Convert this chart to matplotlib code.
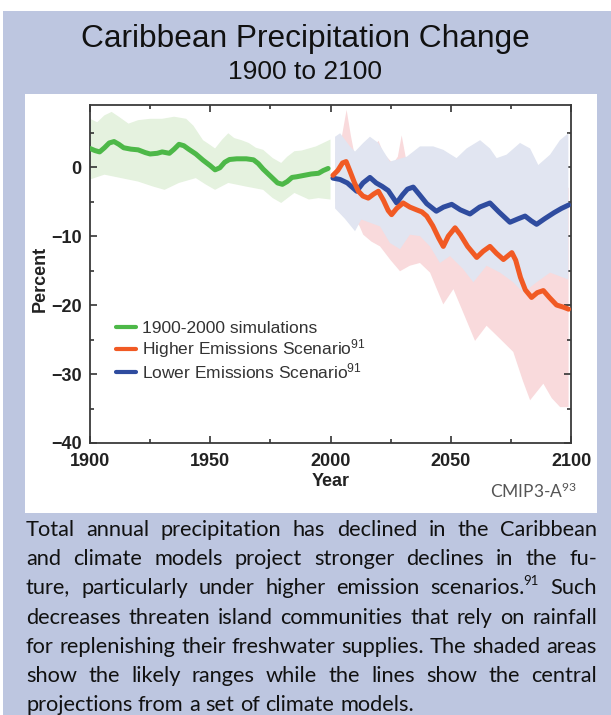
import numpy as np
import matplotlib
matplotlib.use('Agg')
import matplotlib.pyplot as plt
from matplotlib.patches import Rectangle
from matplotlib.font_manager import FontProperties
from matplotlib.ticker import MultipleLocator

plt.rcParams['font.family'] = ['Liberation Sans', 'DejaVu Sans']
plt.rcParams['mathtext.default'] = 'regular'

# ---- data ----
# 1900-2000 simulations (central line)
hist_year = [1900, 1902, 1904, 1906, 1908, 1910, 1912, 1914, 1917, 1920, 1923, 1925, 1928, 1930,
             1933, 1935, 1937, 1939, 1941, 1944, 1947, 1950, 1952, 1954, 1956, 1958, 1961, 1965,
             1968, 1970, 1972, 1975, 1978, 1980, 1982, 1984, 1986, 1989, 1992, 1995, 1997, 1999]
hist_mid = [2.7, 2.4, 2.2, 2.8, 3.5, 3.7, 3.3, 2.8, 2.6, 2.5, 2.1, 1.9, 2.0, 2.2,
            2.0, 2.6, 3.3, 3.1, 2.6, 1.9, 1.0, 0.2, -0.4, -0.1, 0.7, 1.1, 1.2, 1.2,
            1.05, 0.5, -0.3, -1.3, -2.3, -2.5, -2.1, -1.5, -1.4, -1.2, -1.0, -0.9, -0.5, -0.2]
# 1900-2000 likely range
hist_up_year = [1900, 1903, 1906, 1909, 1912, 1916, 1920, 1925, 1930, 1935, 1940, 1943, 1947, 1950,
                1952, 1955, 1957.5, 1960, 1963, 1966, 1969, 1972, 1976, 1979.5, 1982, 1985, 1988,
                1991, 1994, 1997, 2000]
hist_up = [7.0, 6.5, 7.5, 8.0, 7.3, 6.3, 6.8, 7.0, 7.0, 7.3, 7.0, 6.0, 3.9, 3.2,
           2.7, 4.0, 4.9, 4.2, 3.9, 3.5, 2.8, 2.5, 1.3, 0.6, 1.5, 2.3, 2.4,
           2.7, 3.0, 3.5, 4.0]
hist_lo_year = [1900, 1906, 1913, 1920, 1926, 1931, 1937, 1944, 1948, 1952, 1957.5, 1964.5, 1972,
                1976, 1979.5, 1985, 1991, 1995, 2000]
hist_lo = [-1.8, -1.1, -1.6, -2.1, -2.8, -3.3, -2.3, -1.6, -2.5, -3.3, -2.3, -2.8, -3.3,
           -4.5, -5.2, -3.75, -4.7, -4.5, -4.7]

# Higher emissions scenario (central line)
high_year = [2001, 2003, 2005, 2006.5, 2008, 2010, 2011.6, 2013.5, 2015.7, 2018, 2019.9, 2022, 2024,
             2025.4, 2027.5, 2030.2, 2033, 2035.8, 2038, 2040, 2042.5, 2045, 2046.9, 2049, 2051.8,
             2054, 2057, 2060.8, 2063.5, 2066.3, 2069, 2071.9, 2075.4, 2077, 2079, 2081, 2083.6,
             2086, 2088.5, 2091, 2094, 2096.8, 2099]
high_mid = [-1.2, -0.5, 0.6, 0.8, -0.5, -2.3, -3.5, -4.2, -4.5, -3.9, -3.5, -4.8, -6.3,
            -6.9, -6.0, -5.2, -5.8, -6.2, -6.5, -7.1, -8.5, -10.3, -11.5, -10.0, -8.8,
            -9.8, -11.5, -13.1, -12.2, -11.5, -12.5, -13.4, -12.4, -13.5, -16.0, -17.8, -18.9,
            -18.2, -17.9, -18.9, -20.0, -20.3, -20.6]
high_up_year = [2002, 2004.5, 2006.7, 2008.5, 2010, 2014, 2018, 2020, 2022, 2026, 2028, 2029.6,
                2031.5, 2035, 2040, 2044, 2050, 2055, 2060, 2066, 2072, 2080, 2088, 2095, 2099]
high_up = [2.0, 4.0, 8.3, 4.5, 1.8, 2.0, 3.0, 3.8, 2.0, 0.5, 1.5, 4.6,
           1.0, 0.5, 1.2, 0.0, -0.5, 1.5, -1.0, -2.0, -3.0, -3.0, -3.5, -3.0, -3.0]
high_lo_year = [2002, 2008, 2012, 2013.6, 2017, 2020.6, 2025, 2028.9, 2033, 2037.2, 2041.4, 2044,
                2046.9, 2051.1, 2055.2, 2060.1, 2064.9, 2070.5, 2076, 2080, 2083, 2088.5, 2092,
                2095.5, 2099]
high_lo = [-5.0, -7.0, -8.5, -9.8, -10.8, -11.5, -13.5, -15.1, -14.3, -13.9, -15.3, -17.5,
           -19.9, -17.7, -21.1, -25.2, -23.0, -24.9, -26.8, -31.0, -33.8, -31.4, -33.5,
           -34.8, -34.8]

# Lower emissions scenario (central line)
low_year = [2001, 2004, 2007, 2010.9, 2013.5, 2016.4, 2019, 2021.5, 2024, 2027.5, 2030, 2032,
            2034.4, 2037, 2040, 2044, 2047, 2050.4, 2054, 2058, 2062, 2066.3, 2070, 2074.6,
            2078, 2080.9, 2083.5, 2085.7, 2089, 2093, 2096, 2099]
low_mid = [-1.6, -1.8, -2.3, -3.5, -2.3, -1.5, -2.3, -2.8, -3.4, -5.2, -4.0, -3.2,
           -2.9, -4.0, -5.3, -6.4, -5.8, -5.4, -6.2, -6.8, -5.8, -5.2, -6.5, -8.0,
           -7.5, -7.1, -7.8, -8.3, -7.5, -6.6, -6.0, -5.5]
low_up_year = [2001.9, 2004, 2008.1, 2010.2, 2013.6, 2016.4, 2019.9, 2024.7, 2031.7, 2037.2,
               2042.7, 2046.9, 2052.4, 2056.6, 2062.2, 2066.3, 2069.1, 2073.2, 2078.8, 2083,
               2086.4, 2091.3, 2095.4, 2098.9]
low_up = [4.4, 4.9, 3.0, 2.25, 3.5, 4.4, 3.5, 0.8, 1.5, 3.0,
          3.0, 2.5, 1.3, 2.7, 3.9, 2.7, 1.3, 1.8, 3.5, 2.7,
          0.3, 1.8, 3.9, 4.9]
low_lo_year = [2001.9, 2006, 2010.2, 2012.8, 2020.6, 2024.7, 2028.9, 2033, 2037.2, 2041.4, 2045.5,
               2049.7, 2055.2, 2059.4, 2064.9, 2070.5, 2076, 2080.2, 2085.7, 2091.3, 2098.9]
low_lo = [-6.0, -7.5, -9.3, -7.6, -8.6, -11.0, -11.9, -9.8, -10.0, -11.5, -13.9,
          -12.9, -14.8, -16.7, -14.3, -15.3, -16.7, -18.2, -16.7, -15.3, -16.3]

labels = ['1900-2000 simulations', 'Higher Emissions Scenario$^{91}$',
          'Lower Emissions Scenario$^{91}$']

body_lines = [
    'Total annual precipitation has declined in the Caribbean',
    'and climate models project stronger declines in the fu-',
    'ture, particularly under higher emission scenarios.^91 Such',
    'decreases threaten island communities that rely on rainfall',
    'for replenishing their freshwater supplies. The shaded areas',
    'show the likely ranges while the lines show the central',
    'projections from a set of climate models.',
]

green = '#4db848'
orange = '#f15a24'
blue = '#2f4c9f'

W, H = 611, 715
fig = plt.figure(figsize=(W / 100, H / 100), dpi=100)

# background panels
fig.add_artist(Rectangle((3 / W, 0), 1, (H - 11) / H, transform=fig.transFigure,
                         facecolor='#bdc6e0', edgecolor='none', zorder=0))
fig.add_artist(Rectangle((25 / W, (H - 513) / H), (597 - 25) / W, (513 - 94) / H,
                         transform=fig.transFigure, facecolor='white', edgecolor='none', zorder=0))

fig.text(0.5, 1 - 39 / H, 'Caribbean Precipitation Change', ha='center', va='center',
         family=['Liberation Sans Narrow', 'Liberation Sans'], size=22.8, color='#111')
fig.text(0.5, 1 - 72 / H, '1900 to 2100', ha='center', va='center',
         family=['Liberation Sans Narrow', 'Liberation Sans'], size=19.0, color='#111')

ax = fig.add_axes([90 / W, (H - 443) / H, 481 / W, 338 / H])
ax.set_facecolor('none')

# shaded ranges
ax.fill(np.concatenate([hist_up_year, hist_lo_year[::-1]]),
        np.concatenate([hist_up, hist_lo[::-1]]), color='#e5f2df', lw=0, zorder=1)
ax.fill(np.concatenate([high_up_year, high_lo_year[::-1]]),
        np.concatenate([high_up, high_lo[::-1]]), color='#f9dadc', lw=0, zorder=1)
ax.fill(np.concatenate([low_up_year, low_lo_year[::-1]]),
        np.concatenate([low_up, low_lo[::-1]]), color='#e1e5f1', lw=0, zorder=2)

# central lines
l1, = ax.plot(hist_year, hist_mid, color=green, lw=3.6, solid_capstyle='round',
              solid_joinstyle='round', zorder=3)
l3, = ax.plot(low_year, low_mid, color=blue, lw=3.6, solid_capstyle='round',
              solid_joinstyle='round', zorder=3)
l2, = ax.plot(high_year, high_mid, color=orange, lw=3.6, solid_capstyle='round',
              solid_joinstyle='round', zorder=4)

ax.set_xlim(1900, 2100)
ax.set_ylim(-40, 9)
ax.xaxis.set_major_locator(MultipleLocator(50))
ax.xaxis.set_minor_locator(MultipleLocator(25))
ax.yaxis.set_major_locator(MultipleLocator(10))
ax.yaxis.set_minor_locator(MultipleLocator(5))
ax.tick_params(which='both', direction='in', top=True, right=True, color='#333', width=1.2)
ax.tick_params(which='major', length=5, labelsize=13, labelcolor='#222')
ax.tick_params(which='minor', length=3)
ax.tick_params(axis='x', pad=7)
ax.tick_params(axis='y', pad=6)
for lab in ax.get_xticklabels() + ax.get_yticklabels():
    lab.set_fontweight('bold')
for sp in ax.spines.values():
    sp.set_color('#3a3a3a')
    sp.set_linewidth(1.3)

ax.set_xlabel('Year', fontsize=13, fontweight='bold', color='#222')
ax.set_ylabel('Percent', fontsize=13, fontweight='bold', color='#222')
ax.xaxis.set_label_coords(0.5, -0.09)
ax.yaxis.set_label_coords(-0.085, 0.485)

leg = ax.legend([l1, l2, l3], labels, loc='upper left', bbox_to_anchor=(0.054, 0.360),
                frameon=False, fontsize=12.5, handlelength=1.15, handletextpad=0.35,
                labelspacing=0.05, borderpad=0, borderaxespad=0)
for t in leg.get_texts():
    t.set_color('#333')
for h in leg.legend_handles:
    h.set_linewidth(3.0)

fig.text(577 / W, 1 - 498 / H, 'CMIP3-A$^{93}$', ha='right', va='baseline',
         family=['Lato', 'DejaVu Sans'], size=12.5, color='#555')

# justified caption
r = fig.canvas.get_renderer()
x0, x1 = 26.0, 597.0
s0 = 14.0


def word_parts(w):
    base, _, sup = w.partition('^')
    return base, sup


def measure(size):
    p = FontProperties(family=['Lato', 'DejaVu Sans'], size=size)
    ps = FontProperties(family=['Lato', 'DejaVu Sans'], size=size * 0.6)
    sp = (r.get_text_width_height_descent('a a', p, ismath=False)[0]
          - r.get_text_width_height_descent('aa', p, ismath=False)[0])
    rows = []
    for line in body_lines:
        ws = []
        for w in line.split():
            b, s = word_parts(w)
            wb = r.get_text_width_height_descent(b, p, ismath=False)[0]
            wsup = r.get_text_width_height_descent(s, ps, ismath=False)[0] if s else 0
            ws.append((b, s, wb, wsup))
        rows.append(ws)
    return p, ps, sp, rows


p, ps, sp, rows = measure(s0)
natural = [sum(w[2] + w[3] for w in row) + sp * (len(row) - 1) for row in rows[:-1]]
size = min(16.0, s0 * (x1 - x0) / max(natural))
p, ps, sp, rows = measure(size)

base0, dy = 536.0, 29.2
for i, row in enumerate(rows):
    yb = 1 - (base0 + dy * i) / H
    total = sum(w[2] + w[3] for w in row)
    if i < len(rows) - 1 and len(row) > 1:
        gap = (x1 - x0 - total) / (len(row) - 1)
    else:
        gap = sp
    x = x0
    for b, s, wb, wsup in row:
        fig.text(x / W, yb, b, fontproperties=p, color='#111', va='baseline', ha='left')
        if s:
            fig.text((x + wb - 1.5) / W, yb + size * 0.45 / 72 / (H / 100), s,
                     fontproperties=ps, color='#111', va='baseline', ha='left')
        x += wb + wsup + gap

fig.savefig('out.png', dpi=100)
